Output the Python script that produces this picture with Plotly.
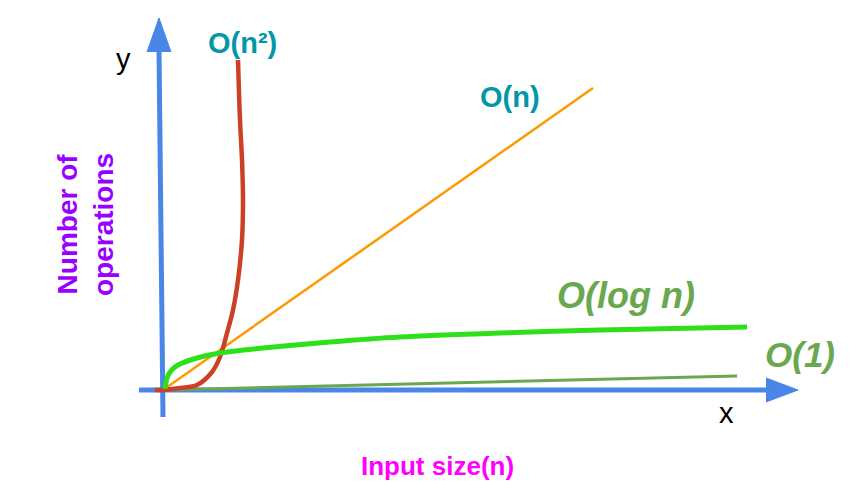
import plotly.graph_objects as go

# Curves (x = input size units, y = operations units; origin at axes crossing)
on_x = [0, 430]
on_y = [0, 302]

o1_x = [0, 574]
o1_y = [0, 14]

logn_x = [2, 2.5, 4, 7, 12, 17, 34, 57, 100, 167, 237, 337, 437, 584]
logn_y = [1, 5, 12, 18, 23, 26, 32, 37, 42, 48, 53, 57, 60, 63]

n2_x = [-8, 0, 17, 34, 49, 57, 64, 70, 75, 79, 80, 79, 77, 75]
n2_y = [0, 0, 2, 5, 18, 33, 57, 80, 110, 150, 190, 230, 270, 330]

# Axis arrows
xaxis_x = [-24, 604]
xaxis_y = [0, 0]
xhead_x = [603, 635, 603]
xhead_y = [12, 0, -12]
yaxis_x = [0, -4]
yaxis_y = [-27, 340]
yhead_x = [-16, -4, 8]
yhead_y = [338, 372, 338]

BLUE = "#4A86E8"
FONT = "Liberation Sans, Arial, sans-serif"

fig = go.Figure()

# axes
fig.add_trace(go.Scatter(x=xaxis_x, y=xaxis_y, mode="lines",
                         line=dict(color=BLUE, width=5), hoverinfo="skip"))
fig.add_trace(go.Scatter(x=xhead_x, y=xhead_y, mode="lines", fill="toself",
                         fillcolor=BLUE, line=dict(color=BLUE, width=1), hoverinfo="skip"))
fig.add_trace(go.Scatter(x=yaxis_x, y=yaxis_y, mode="lines",
                         line=dict(color=BLUE, width=5), hoverinfo="skip"))
fig.add_trace(go.Scatter(x=yhead_x, y=yhead_y, mode="lines", fill="toself",
                         fillcolor=BLUE, line=dict(color=BLUE, width=1), hoverinfo="skip"))

# curves
fig.add_trace(go.Scatter(x=o1_x, y=o1_y, mode="lines",
                         line=dict(color="#6AA84F", width=3)))
fig.add_trace(go.Scatter(x=on_x, y=on_y, mode="lines",
                         line=dict(color="#FF9900", width=2.5)))
fig.add_trace(go.Scatter(x=n2_x, y=n2_y, mode="lines",
                         line=dict(color="#CC4125", width=4.5, shape="spline")))
fig.add_trace(go.Scatter(x=logn_x, y=logn_y, mode="lines",
                         line=dict(color="#2EE01A", width=5, shape="spline", smoothing=0.8)))

annotations = [
    dict(x=-40, y=331, text="y", font=dict(size=29, color="black", family=FONT)),
    dict(x=563, y=-23, text="x", font=dict(size=29, color="black", family=FONT)),
    dict(x=79, y=347, text="<b>O(n²)</b>", font=dict(size=29, color="#0097A7", family=FONT)),
    dict(x=347, y=293, text="<b>O(n)</b>", font=dict(size=29, color="#0097A7", family=FONT)),
    dict(x=463, y=95, text="<b><i>O(log n)</i></b>", font=dict(size=36, color="#6AA84F", family=FONT)),
    dict(x=637, y=36, text="<b><i>O(1)</i></b>", font=dict(size=35, color="#6AA84F", family=FONT)),
    dict(x=-78, y=165, text="<b>Number of<br>operations</b>", textangle=-90,
         font=dict(size=28, color="#9900FF", family=FONT)),
    dict(x=274, y=-76, text="<b>Input size(n)</b>", font=dict(size=26, color="#FF00FF", family=FONT)),
]
for a in annotations:
    a.update(showarrow=False, xref="x", yref="y")

fig.update_layout(
    width=844, height=484,
    margin=dict(l=0, r=0, t=0, b=0),
    paper_bgcolor="white", plot_bgcolor="white",
    showlegend=False,
    xaxis=dict(range=[-155, 689], visible=False, fixedrange=True),
    yaxis=dict(range=[-102, 382], visible=False, fixedrange=True),
    annotations=annotations,
)

fig.write_html("out.html")
